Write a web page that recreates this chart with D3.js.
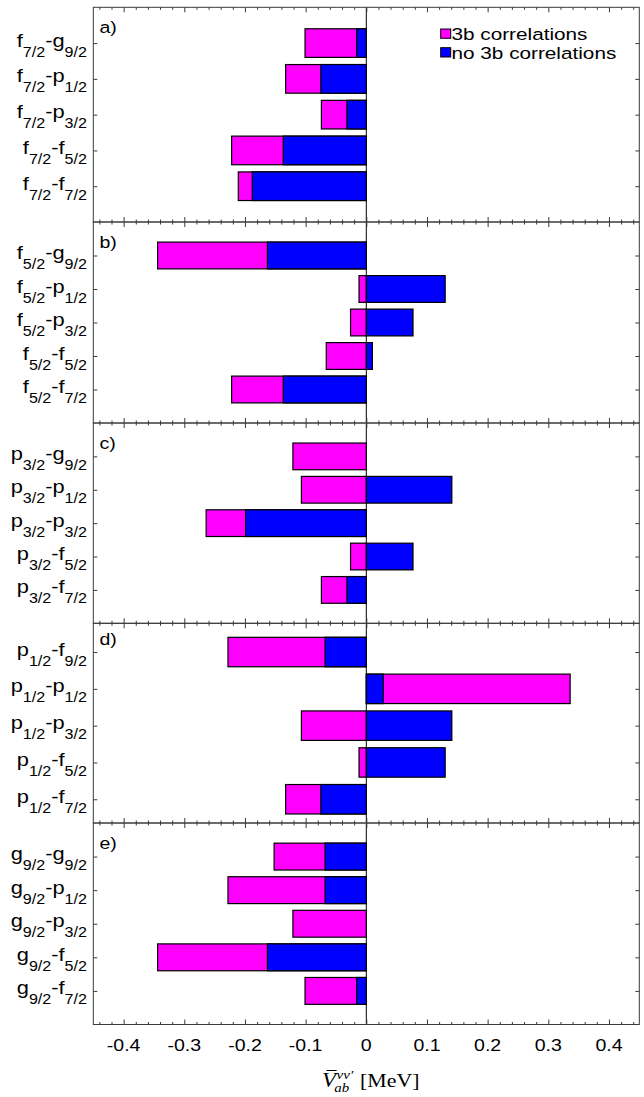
<!DOCTYPE html>
<html><head><meta charset="utf-8">
<script src="https://cdn.jsdelivr.net/npm/d3@7"></script>
<style>body{margin:0;background:#fff}svg{display:block}</style>
</head><body><svg id="c" width="644" height="1097"></svg>
<script>
// ---------------- data ----------------
const panelLetters = ["a)", "b)", "c)", "d)", "e)"];

// labels: [orbit1, sub1, orbit2, sub2]
const labelsA = [["f","7/2","g","9/2"],["f","7/2","p","1/2"],["f","7/2","p","3/2"],["f","7/2","f","5/2"],["f","7/2","f","7/2"]];
const labelsB = [["f","5/2","g","9/2"],["f","5/2","p","1/2"],["f","5/2","p","3/2"],["f","5/2","f","5/2"],["f","5/2","f","7/2"]];
const labelsC = [["p","3/2","g","9/2"],["p","3/2","p","1/2"],["p","3/2","p","3/2"],["p","3/2","f","5/2"],["p","3/2","f","7/2"]];
const labelsD = [["p","1/2","f","9/2"],["p","1/2","p","1/2"],["p","1/2","p","3/2"],["p","1/2","f","5/2"],["p","1/2","f","7/2"]];
const labelsE = [["g","9/2","g","9/2"],["g","9/2","p","1/2"],["g","9/2","p","3/2"],["g","9/2","f","5/2"],["g","9/2","f","7/2"]];

// values in MeV (3b correlations / no 3b correlations)
const with3bA = [-0.101, -0.133, -0.074, -0.222, -0.211];
const no3bA   = [-0.016, -0.075, -0.032, -0.137, -0.188];
const with3bB = [-0.344, -0.012, -0.026, -0.066, -0.222];
const no3bB   = [-0.163,  0.130,  0.077,  0.010, -0.137];
const with3bC = [-0.121, -0.107, -0.264, -0.026, -0.074];
const no3bC   = [ 0.000,  0.141, -0.199,  0.077, -0.032];
const with3bD = [-0.228,  0.336, -0.107, -0.012, -0.133];
const no3bD   = [-0.068,  0.028,  0.141,  0.130, -0.075];
const with3bE = [-0.152, -0.228, -0.121, -0.344, -0.101];
const no3bE   = [-0.068, -0.068,  0.000, -0.163, -0.016];

const xTickValues = [-0.4, -0.3, -0.2, -0.1, 0, 0.1, 0.2, 0.3, 0.4];
const xTickLabels = ["-0.4", "-0.3", "-0.2", "-0.1", "0", "0.1", "0.2", "0.3", "0.4"];
const seriesNames = ["3b correlations", "no 3b correlations"];
const seriesColors = ["#ff00ff", "#0000ff"];

// ---------------- layout ----------------
const W = 644, H = 1097;
const sans = "'Liberation Sans', Arial, Helvetica, sans-serif";
const serif = "'Liberation Serif', 'Times New Roman', serif";
const frameColor = "#3a3a3a";
const panels = [
  {top: 7.3,   bottom: 222,   dom: [0, 6],          labels: labelsA, a: with3bA, b: no3bA},
  {top: 222,   bottom: 423,   dom: [0, 6],          labels: labelsB, a: with3bB, b: no3bB},
  {top: 423,   bottom: 623.3, dom: [0, 6],          labels: labelsC, a: with3bC, b: no3bC},
  {top: 623.3, bottom: 823,   dom: [0.219, 5.645],  labels: labelsD, a: with3bD, b: no3bD},
  {top: 823,   bottom: 1024.5,dom: [0, 6],          labels: labelsE, a: with3bE, b: no3bE}
];
const xL = 93.3, xR = 639.3;
const x = d3.scaleLinear().domain([-0.45, 0.45]).range([xL, xR]);
const minorTicks = d3.range(-44, 45, 2).map(d => d / 100).filter(v => xTickValues.every(t => Math.abs(t - v) > 1e-9));

const svg = d3.select("#c");
svg.append("rect").attr("width", W).attr("height", H).attr("fill", "#fff");

function sText(parent, px, py, anchor, sx) {
  const g = parent.append("g").attr("transform", `translate(${px},${py}) scale(${sx},1)`);
  return g.append("text").attr("text-anchor", anchor);
}

panels.forEach((p, i) => {
  const g = svg.append("g");
  const y = d3.scaleLinear().domain(p.dom).range([p.top, p.bottom]);
  const cats = [1, 2, 3, 4, 5];
  const bh = (y(1) - y(0)) * 0.8;

  // zero line
  g.append("line").attr("x1", x(0)).attr("x2", x(0)).attr("y1", p.top).attr("y2", p.bottom)
    .attr("stroke", "#000").attr("stroke-width", 1);

  [p.a, p.b].forEach((vals, si) => {
    g.selectAll(null).data(vals.map((v, k) => ({v, k})).filter(d => d.v !== 0)).enter().append("rect")
      .attr("x", d => x(Math.min(0, d.v)))
      .attr("width", d => Math.abs(x(d.v) - x(0)))
      .attr("y", d => y(cats[d.k]) - bh / 2)
      .attr("height", bh)
      .attr("fill", seriesColors[si])
      .attr("stroke", "#000").attr("stroke-width", 1.2);
  });

  // x ticks (inward) top and bottom
  const addX = (axisFn, yy, vals, size) => {
    const ax = g.append("g").attr("transform", `translate(0,${yy})`)
      .call(axisFn(x).tickValues(vals).tickSize(size).tickFormat(""));
    ax.select(".domain").remove();
    ax.selectAll("line").attr("stroke", frameColor);
  };
  addX(d3.axisTop, p.top, xTickValues, -5);
  addX(d3.axisTop, p.top, minorTicks, -2.5);
  addX(d3.axisBottom, p.bottom, xTickValues, -5);
  addX(d3.axisBottom, p.bottom, minorTicks, -2.5);

  // y ticks (inward) left and right
  const ayL = g.append("g").attr("transform", `translate(${xL},0)`)
    .call(d3.axisLeft(y).tickValues(cats).tickSize(-4).tickFormat(""));
  ayL.select(".domain").remove(); ayL.selectAll("line").attr("stroke", frameColor);
  const ayR = g.append("g").attr("transform", `translate(${xR},0)`)
    .call(d3.axisRight(y).tickValues(cats).tickSize(-4).tickFormat(""));
  ayR.select(".domain").remove(); ayR.selectAll("line").attr("stroke", frameColor);

  // frame
  g.append("rect").attr("x", xL).attr("y", p.top).attr("width", xR - xL).attr("height", p.bottom - p.top)
    .attr("fill", "none").attr("stroke", frameColor).attr("stroke-width", 1);

  // panel letter
  sText(g, 99.5, p.top + (i === 3 ? 21.5 : 25.5), "start", 1.15)
    .attr("font-family", sans).attr("font-size", 17).attr("fill", "#000").text(panelLetters[i]);

  // category labels
  p.labels.forEach((lab, k) => {
    const t = sText(g, 87, y(cats[k]) + 3.5, "end", 1.15)
      .attr("font-family", sans).attr("font-size", 19).attr("fill", "#000");
    t.append("tspan").text(lab[0]);
    t.append("tspan").attr("font-size", 14).attr("dy", 10).text(lab[1]);
    t.append("tspan").attr("dy", -10).text("-" + lab[2]);
    t.append("tspan").attr("font-size", 14).attr("dy", 10).text(lab[3]);
  });
});

// x tick labels under bottom panel
const last = panels[panels.length - 1];
xTickValues.forEach((v, j) => {
  sText(svg, x(v), last.bottom + 26, "middle", 1.15)
    .attr("font-family", sans).attr("font-size", 17).attr("fill", "#000").text(xTickLabels[j]);
});

// legend
const lg = svg.append("g");
seriesNames.forEach((name, si) => {
  const yy = 29 + si * 18.7;
  lg.append("rect").attr("x", 440.7).attr("y", yy).attr("width", 10).attr("height", 9.3)
    .attr("fill", seriesColors[si]).attr("stroke", "#000").attr("stroke-width", 1);
  sText(lg, 451.5, yy + 10.8, "start", 1.22)
    .attr("font-family", sans).attr("font-size", 17).attr("fill", "#000").text(name);
});

// axis title  \bar V_{ab}^{\nu\nu'} [MeV]
const tSX = 1.15;
const tg = svg.append("g").attr("transform", `translate(322,1087) scale(${tSX},1)`);
const tV = tg.append("text").attr("x", 0).attr("y", 0).attr("font-family", serif).attr("font-style", "italic")
  .attr("font-size", 20).attr("fill", "#000").text("V");
const wV = tV.node().getComputedTextLength();
tg.append("line").attr("x1", 4).attr("x2", wV + 0.5).attr("y1", -16.5).attr("y2", -16.5)
  .attr("stroke", "#000").attr("stroke-width", 1);
tg.append("text").attr("x", wV + 0.5).attr("y", -8).attr("font-family", serif).attr("font-style", "italic")
  .attr("font-size", 13).attr("fill", "#000").text("νν′");
tg.append("text").attr("x", wV - 1.5).attr("y", 5).attr("font-family", serif).attr("font-style", "italic")
  .attr("font-size", 13).attr("fill", "#000").text("ab");
tg.append("text").attr("x", (360 - 322) / tSX).attr("y", 0).attr("font-family", serif)
  .attr("font-size", 19).attr("fill", "#000").text("[MeV]");
</script>
</body></html>
